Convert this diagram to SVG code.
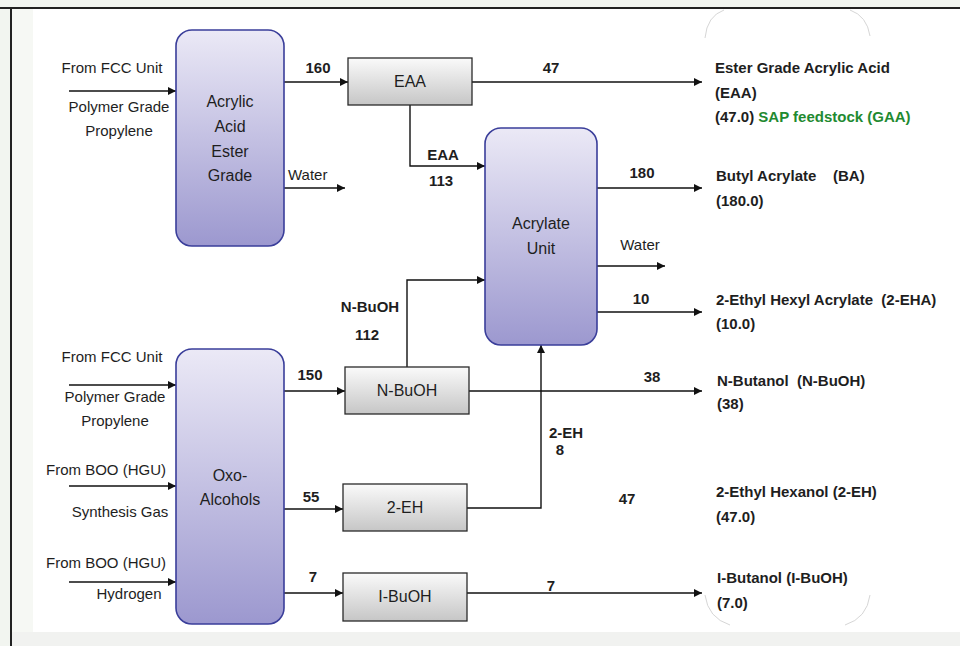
<svg xmlns="http://www.w3.org/2000/svg" width="960" height="646" viewBox="0 0 960 646">
  <defs>
    <linearGradient id="gBig" x1="0" y1="0" x2="0" y2="1">
      <stop offset="0" stop-color="#ebe9f6"/>
      <stop offset="1" stop-color="#9c98cf"/>
    </linearGradient>
    <linearGradient id="gSmall" x1="0" y1="0" x2="0" y2="1">
      <stop offset="0" stop-color="#fafafa"/>
      <stop offset="1" stop-color="#c6c6c6"/>
    </linearGradient>
    <marker id="arr" viewBox="0 0 10 10" refX="10" refY="5" markerWidth="8" markerHeight="8" markerUnits="userSpaceOnUse" orient="auto">
      <path d="M0,0 L10,5 L0,10 z" fill="#111"/>
    </marker>
    <style>
      text { font-family: "Liberation Sans", Arial, sans-serif; fill: #1e1e1e; }
      .lbl { font-size: 15px; }
      .box { font-size: 16px; text-anchor: middle; }
      .num { font-size: 15px; font-weight: bold; text-anchor: middle; }
      .prod { font-size: 15px; font-weight: bold; }
      .green { fill: #1f8a31; }
      .mid { text-anchor: middle; }
      .big { fill: url(#gBig); stroke: #3a3e9a; stroke-width: 1.6; }
      .small { fill: url(#gSmall); stroke: #2a2a2a; stroke-width: 1.3; }
      .conn path, .conn line { stroke: #111; stroke-width: 1.4; fill: none; marker-end: url(#arr); }
      .faint { stroke: #d6d6d6; stroke-width: 1; fill: none; }
    </style>
  </defs>

  <!-- background / frame -->
  <rect x="0" y="0" width="960" height="646" fill="#f2f5f0"/>
  <rect x="12" y="9" width="948" height="623" fill="#ffffff"/>
  <rect x="12" y="9" width="21" height="623" fill="#f6f8f4"/>
  <rect x="12" y="632" width="948" height="14" fill="#f1f2f0"/>
  <line x1="0" y1="8" x2="960" y2="8" stroke="#222" stroke-width="2"/>
  <line x1="11" y1="8" x2="11" y2="646" stroke="#222" stroke-width="2"/>

  <!-- faint rounded outline corners behind product labels -->
  <path class="faint" d="M705,38 Q707,16 724,10"/>
  <path class="faint" d="M850,10 Q867,16 870,36"/>
  <path class="faint" d="M705,595 Q708,618 730,625"/>
  <path class="faint" d="M870,595 Q867,618 845,625"/>

  <!-- connectors -->
  <g id="connectors" class="conn">
    <line x1="69" y1="91" x2="176" y2="91"/>
    <line x1="284" y1="82" x2="348" y2="82"/>
    <line x1="472" y1="82" x2="702" y2="82"/>
    <path d="M410,105 V166 H485"/>
    <line x1="284" y1="188" x2="345" y2="188"/>
    <line x1="597" y1="188" x2="702" y2="188"/>
    <line x1="597" y1="266" x2="665" y2="266"/>
    <line x1="597" y1="312" x2="702" y2="312"/>
    <path d="M407,367 V280 H485"/>
    <line x1="69" y1="385" x2="176" y2="385"/>
    <line x1="69" y1="486" x2="176" y2="486"/>
    <line x1="69" y1="582" x2="176" y2="582"/>
    <line x1="284" y1="391" x2="345" y2="391"/>
    <line x1="469" y1="391" x2="702" y2="391"/>
    <line x1="284" y1="509" x2="343" y2="509"/>
    <path d="M467,508 H541 V345"/>
    <line x1="284" y1="593" x2="343" y2="593"/>
    <line x1="467" y1="593" x2="702" y2="593"/>
  </g>

  <!-- nodes -->
  <g id="acrylic-acid-ester-grade">
    <rect class="big" x="176" y="30" width="108" height="216" rx="16"/>
    <text class="box" x="230" y="107">Acrylic</text>
    <text class="box" x="230" y="132">Acid</text>
    <text class="box" x="230" y="157">Ester</text>
    <text class="box" x="230" y="181">Grade</text>
  </g>
  <g id="eaa">
    <rect class="small" x="348" y="58" width="124" height="47"/>
    <text class="box" x="410" y="87">EAA</text>
  </g>
  <g id="acrylate-unit">
    <rect class="big" x="485" y="128" width="112" height="217" rx="16"/>
    <text class="box" x="541" y="229">Acrylate</text>
    <text class="box" x="541" y="254">Unit</text>
  </g>
  <g id="oxo-alcohols">
    <rect class="big" x="176" y="349" width="108" height="275" rx="16"/>
    <text class="box" x="230" y="481">Oxo-</text>
    <text class="box" x="230" y="505">Alcohols</text>
  </g>
  <g id="n-buoh">
    <rect class="small" x="345" y="367" width="124" height="47"/>
    <text class="box" x="407" y="396">N-BuOH</text>
  </g>
  <g id="two-eh">
    <rect class="small" x="343" y="484" width="124" height="47"/>
    <text class="box" x="405" y="513">2-EH</text>
  </g>
  <g id="i-buoh">
    <rect class="small" x="343" y="573" width="124" height="48"/>
    <text class="box" x="405" y="602">I-BuOH</text>
  </g>

  <!-- input labels -->
  <g id="inputs">
    <text class="lbl mid" x="112" y="73">From FCC Unit</text>
    <text class="lbl mid" x="119" y="112">Polymer Grade</text>
    <text class="lbl mid" x="119" y="136">Propylene</text>
    <text class="lbl mid" x="112" y="362">From FCC Unit</text>
    <text class="lbl mid" x="115" y="402">Polymer Grade</text>
    <text class="lbl mid" x="115" y="426">Propylene</text>
    <text class="lbl mid" x="106" y="475">From BOO (HGU)</text>
    <text class="lbl mid" x="120" y="517">Synthesis Gas</text>
    <text class="lbl mid" x="106" y="568">From BOO (HGU)</text>
    <text class="lbl mid" x="129" y="599">Hydrogen</text>
  </g>

  <!-- flow labels -->
  <g id="flow-labels">
    <text class="num" x="318" y="73">160</text>
    <text class="num" x="551" y="73">47</text>
    <text class="num" x="443" y="160">EAA</text>
    <text class="num" x="441" y="186">113</text>
    <text class="lbl" x="288" y="180">Water</text>
    <text class="num" x="642" y="178">180</text>
    <text class="lbl mid" x="640" y="250">Water</text>
    <text class="num" x="641" y="304">10</text>
    <text class="num" x="370" y="312">N-BuOH</text>
    <text class="num" x="367" y="340">112</text>
    <text class="num" x="310" y="380">150</text>
    <text class="num" x="652" y="382">38</text>
    <text class="num" x="311" y="502">55</text>
    <text class="num" x="566" y="438">2-EH</text>
    <text class="num" x="560" y="455">8</text>
    <text class="num" x="627" y="504">47</text>
    <text class="num" x="313" y="582">7</text>
    <text class="num" x="551" y="591">7</text>
  </g>

  <!-- product labels -->
  <g id="products">
    <text class="prod" x="715" y="73">Ester Grade Acrylic Acid</text>
    <text class="prod" x="715" y="98">(EAA)</text>
    <text class="prod" x="715" y="122">(47.0) <tspan class="green">SAP feedstock (GAA)</tspan></text>
    <text class="prod" x="716" y="181" xml:space="preserve">Butyl Acrylate    (BA)</text>
    <text class="prod" x="716" y="206">(180.0)</text>
    <text class="prod" x="716" y="305" xml:space="preserve">2-Ethyl Hexyl Acrylate  (2-EHA)</text>
    <text class="prod" x="716" y="329">(10.0)</text>
    <text class="prod" x="717" y="386" xml:space="preserve">N-Butanol  (N-BuOH)</text>
    <text class="prod" x="717" y="409">(38)</text>
    <text class="prod" x="716" y="497">2-Ethyl Hexanol (2-EH)</text>
    <text class="prod" x="716" y="522">(47.0)</text>
    <text class="prod" x="717" y="583">I-Butanol (I-BuOH)</text>
    <text class="prod" x="717" y="608">(7.0)</text>
  </g>
</svg>
